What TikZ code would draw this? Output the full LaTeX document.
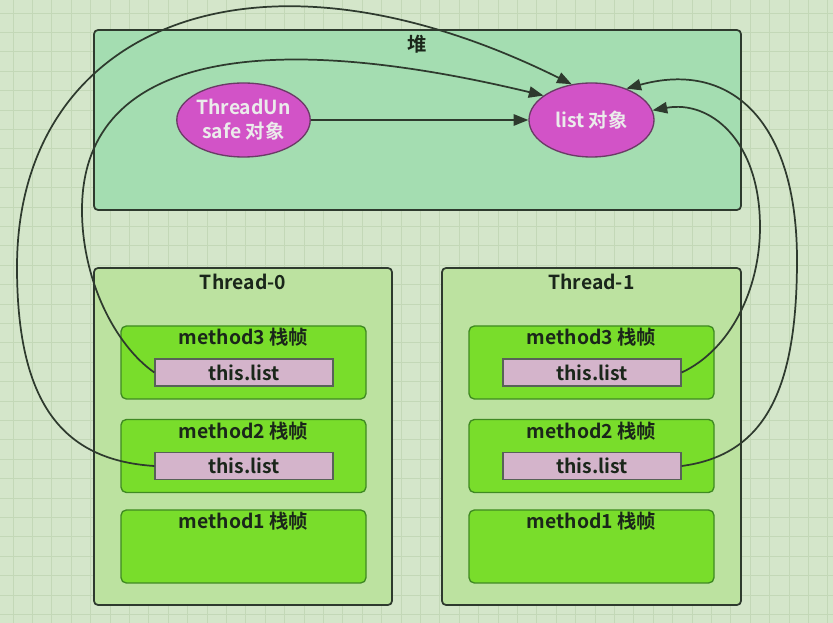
\documentclass[tikz,border=0pt]{standalone}
\usepackage{fontspec}
\setmainfont{Noto Sans CJK SC}[BoldFont={Noto Sans CJK SC Bold}]
\usepackage{xcolor}
\usetikzlibrary{shapes.geometric,arrows.meta}

\definecolor{bgcol}{HTML}{D4E6CA}
\definecolor{gridcol}{HTML}{C3D8B7}
\definecolor{heapcol}{HTML}{A4DDB1}
\definecolor{threadcol}{HTML}{BCE2A0}
\definecolor{framecol}{HTML}{79DD2B}
\definecolor{framelinecol}{HTML}{3F8A22}
\definecolor{refcol}{HTML}{D4B4CB}
\definecolor{objcol}{HTML}{D253C7}
\definecolor{objlinecol}{HTML}{6B3B66}
\definecolor{boxline}{HTML}{2E3A2E}
\definecolor{textcol}{HTML}{1A261A}

\begin{document}
\begin{tikzpicture}[x=0.75pt,y=-0.75pt,
    font=\fontsize{14.5}{18}\selectfont\bfseries,text=textcol,
    >={Triangle[length=11pt,width=8.5pt]},
    area/.style={draw=boxline,line width=1.3pt,rounded corners=3pt,inner sep=0pt},
    framebox/.style={draw=framelinecol,line width=1pt,rounded corners=4pt,fill=framecol,inner sep=0pt,
        minimum width=183.75pt,minimum height=54.75pt},
    refbox/.style={draw=boxline!80,line width=1pt,fill=refcol,inner sep=0pt,
        minimum width=133.5pt,minimum height=20.25pt},
    obj/.style={ellipse,draw=objlinecol,line width=1pt,fill=objcol,inner sep=0pt,
        minimum width=93.75pt,minimum height=55.5pt,align=center,text=white!92!black},
    toptitle/.style={anchor=center,inner sep=0pt,yshift=#1},
    gridline/.style={draw=gridcol,line width=0.7pt},
    link/.style={draw=boxline,line width=1.3pt}]
            \useasboundingbox (0,0) rectangle (833,623);
            \fill[bgcol] (0,0) rectangle (833,623);
            \foreach \gx in {0,...,42} \draw[gridline] (13+19.4*\gx,0) -- (13+19.4*\gx,623);
            \foreach \gy in {0,...,31} \draw[gridline] (0,13+19.4*\gy) -- (833,13+19.4*\gy);

            \node (heap) at (417.5,120) [area,fill=heapcol,minimum width=485.25pt,minimum height=135pt,
                label={[toptitle=-11.25pt]north:堆}] {};
            \node (unsafe) at (243.5,120) [obj] {ThreadUn\\safe 对象};
            \node (listobj) at (591.5,120) [obj] {list 对象};

            \node (t0) at (243,436.5) [area,fill=threadcol,minimum width=223.5pt,minimum height=252.75pt,
                label={[toptitle=-11.25pt]north:Thread-0}] {};
            \node (t1) at (591.5,436.5) [area,fill=threadcol,minimum width=224.25pt,minimum height=252.75pt,
                label={[toptitle=-11.25pt]north:Thread-1}] {};

            \node (t0m3) at (243.5,362.5) [framebox,label={[toptitle=-9pt]north:method3 栈帧}] {};
            \node (t0m2) at (243.5,456) [framebox,label={[toptitle=-9pt]north:method2 栈帧}] {};
            \node (t0m1) at (243.5,546.5) [framebox,label={[toptitle=-9pt]north:method1 栈帧}] {};
            \node (t1m3) at (591.5,362.5) [framebox,label={[toptitle=-9pt]north:method3 栈帧}] {};
            \node (t1m2) at (591.5,456) [framebox,label={[toptitle=-9pt]north:method2 栈帧}] {};
            \node (t1m1) at (591.5,546.5) [framebox,label={[toptitle=-9pt]north:method1 栈帧}] {};

            \node (t0l3) at (244,372.5) [refbox] {this.list};
            \node (t0l2) at (244,466) [refbox] {this.list};
            \node (t1l3) at (592,372.5) [refbox] {this.list};
            \node (t1l2) at (592,466) [refbox] {this.list};

            \draw[link,->] (unsafe) -- (listobj);
            \draw[link,->] (t0l3.west) .. controls (115,345) and (82,280) .. (82,210)
                .. controls (82,60) and (250,25) .. (listobj.153);
            \draw[link,->] (t0l2.west) .. controls (60,460) and (17,400) .. (17,267)
                .. controls (17,30) and (250,-75) .. (listobj.119);
            \draw[link,->] (t1l3.east) .. controls (730,350) and (760,290) .. (760,227)
                .. controls (760,140) and (710,100) .. (listobj.9);
            \draw[link,->] (t1l2.east) .. controls (765,455) and (797,390) .. (797,260)
                .. controls (797,120) and (730,60) .. (listobj.42);

        \end{tikzpicture}
\end{document}
